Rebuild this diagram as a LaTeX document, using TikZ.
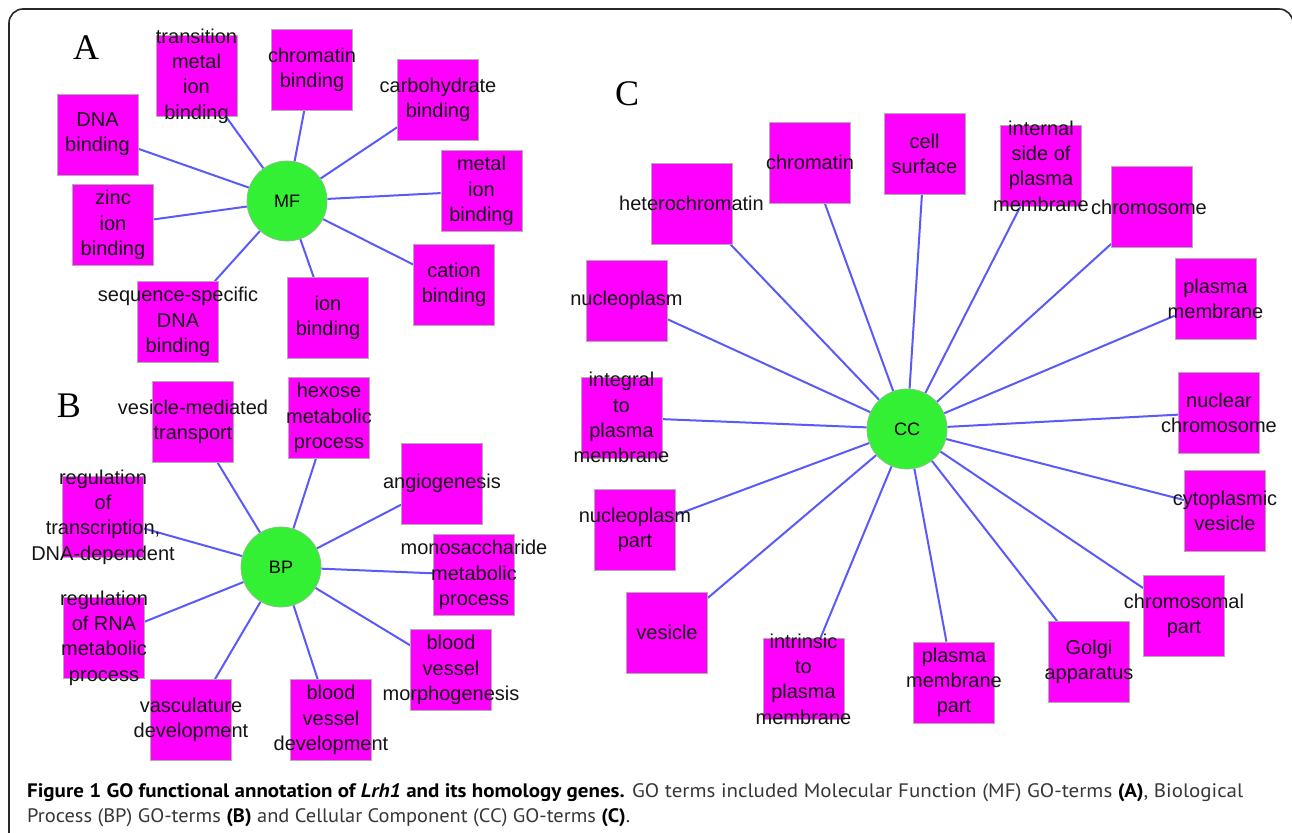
\documentclass[tikz,border=0pt]{standalone}
\usepackage{fontspec}
\usepackage{graphicx}
\usetikzlibrary{backgrounds}
\newfontfamily\arialf{Liberation Sans}
\newfontfamily\timesf{Liberation Serif}
\newfontfamily\capfont{PT Sans}
\definecolor{mag}{RGB}{255,0,255}
\definecolor{boxline}{RGB}{175,175,175}
\definecolor{hubgreen}{RGB}{52,240,52}
\definecolor{hubline}{RGB}{140,190,140}
\definecolor{edgeblue}{RGB}{90,90,250}
\definecolor{framec}{RGB}{40,40,40}
\definecolor{captxt}{RGB}{55,55,55}
\tikzset{
  gobox/.style={rectangle, fill=mag, draw=boxline, line width=0.7pt, minimum width=81pt, minimum height=81pt, inner sep=0pt},
  lbl/.style={align=center, inner sep=0pt, text=black!92, font=\arialf\fontsize{20}{25.3}\selectfont},
  hub/.style={circle, fill=hubgreen, draw=hubline, line width=0.8pt, minimum size=80pt, inner sep=0pt, font=\arialf\fontsize{18}{20}\selectfont},
  edge/.style={draw=edgeblue, line width=2pt},
  panel/.style={inner sep=0pt, font=\timesf\fontsize{36}{36}\selectfont},
  captionline/.style={inner sep=0pt, anchor=base west, text=captxt, font=\capfont\fontsize{19.5}{22}\selectfont}
}
\begin{document}
\begin{tikzpicture}[x=1pt,y=-1pt]
\useasboundingbox (0,0) rectangle (1292,832);
\begin{scope}[on background layer]
\fill[white] (0,0) rectangle (1292,832);
\end{scope}
\begin{scope}
\clip (0,0) rectangle (1292,832);
\draw[framec, line width=1.6pt, rounded corners=14pt] (9,9) rectangle (1293,870);
\end{scope}

% ---------- Panel A ----------
\node[panel] (pA) at (86,48) {A};
\node[hub] (MF) at (287,201) {MF};
\node[gobox] (a1) at (196.5,76) {};
\node[gobox] (a2) at (312,70) {};
\node[gobox] (a3) at (438,100) {};
\node[gobox] (a4) at (97.5,134.5) {};
\node[gobox] (a5) at (481.5,191) {};
\node[gobox] (a6) at (113,225) {};
\node[gobox] (a7) at (454,285) {};
\node[gobox] (a8) at (178,322) {};
\node[gobox] (a9) at (328,318) {};
\node[lbl] (ta1) at (a1) {transition\\metal\\ion\\binding};
\node[lbl] (ta2) at (a2) {chromatin\\binding};
\node[lbl] (ta3) at (a3) {carbohydrate\\binding};
\node[lbl] (ta4) at (a4) {DNA\\binding};
\node[lbl] (ta5) at (a5) {metal\\ion\\binding};
\node[lbl] (ta6) at (a6) {zinc\\ion\\binding};
\node[lbl] (ta7) at (a7) {cation\\binding};
\node[lbl] (ta8) at (a8) {sequence-specific\\DNA\\binding};
\node[lbl] (ta9) at (a9) {ion\\binding};

% ---------- Panel B ----------
\node[panel] (pB) at (69,406) {B};
\node[hub] (BP) at (281,567) {BP};
\node[gobox] (b1) at (193,422) {};
\node[gobox] (b2) at (329,418) {};
\node[gobox] (b3) at (442,483.5) {};
\node[gobox] (b4) at (103,517) {};
\node[gobox] (b5) at (474,575) {};
\node[gobox] (b6) at (104,638) {};
\node[gobox] (b7) at (451,670) {};
\node[gobox] (b8) at (191,720) {};
\node[gobox] (b9) at (331,720) {};
\node[lbl] (tb1) at (b1) {vesicle-mediated\\transport};
\node[lbl] (tb2) at (b2) {hexose\\metabolic\\process};
\node[lbl] (tb3) at (b3) {angiogenesis};
\node[lbl] (tb4) at (b4) {regulation\\of\\transcription,\\DNA-dependent};
\node[lbl] (tb5) at (b5) {monosaccharide\\metabolic\\process};
\node[lbl] (tb6) at (b6) {regulation\\of RNA\\metabolic\\process};
\node[lbl] (tb7) at (b7) {blood\\vessel\\morphogenesis};
\node[lbl] (tb8) at (b8) {vasculature\\development};
\node[lbl] (tb9) at (b9) {blood\\vessel\\development};

% ---------- Panel C ----------
\node[panel] (pC) at (627,94) {C};
\node[hub] (CC) at (907,429) {CC};
\node[gobox] (c1) at (691.5,203.5) {};
\node[gobox] (c2) at (810,162.5) {};
\node[gobox] (c3) at (924.5,154) {};
\node[gobox] (c4) at (1041,166) {};
\node[gobox] (c5) at (1152,207) {};
\node[gobox] (c6) at (626.5,300.5) {};
\node[gobox] (c7) at (1215.5,298.5) {};
\node[gobox] (c8) at (621.5,417.5) {};
\node[gobox] (c9) at (1219,412.5) {};
\node[gobox] (c10) at (635,530) {};
\node[gobox] (c11) at (1225,510.5) {};
\node[gobox] (c12) at (667,632.5) {};
\node[gobox] (c13) at (1184,615.5) {};
\node[gobox] (c14) at (803.5,679) {};
\node[gobox] (c15) at (954,682.5) {};
\node[gobox] (c16) at (1089,662) {};
\node[lbl] (tc1) at (c1) {heterochromatin};
\node[lbl] (tc2) at (c2) {chromatin};
\node[lbl] (tc3) at (c3) {cell\\surface};
\node[lbl] (tc4) at (c4) {internal\\side of\\plasma\\membrane};
\node[lbl] (tc5) at (1149,207) {chromosome};
\node[lbl] (tc6) at (c6) {nucleoplasm};
\node[lbl] (tc7) at (c7) {plasma\\membrane};
\node[lbl] (tc8) at (c8) {integral\\to\\plasma\\membrane};
\node[lbl] (tc9) at (c9) {nuclear\\chromosome};
\node[lbl] (tc10) at (c10) {nucleoplasm\\part};
\node[lbl] (tc11) at (c11) {cytoplasmic\\vesicle};
\node[lbl] (tc12) at (c12) {vesicle};
\node[lbl] (tc13) at (c13) {chromosomal\\part};
\node[lbl] (tc14) at (c14) {intrinsic\\to\\plasma\\membrane};
\node[lbl] (tc15) at (c15) {plasma\\membrane\\part};
\node[lbl] (tc16) at (c16) {Golgi\\apparatus};

% ---------- Edges ----------
\begin{scope}[on background layer]
\foreach \n in {a1,a2,a3,a4,a5,a6,a7,a8,a9} \draw[edge] (MF) -- (\n);
\foreach \n in {b1,b2,b3,b4,b5,b6,b7,b8,b9} \draw[edge] (BP) -- (\n);
\foreach \n in {c1,c2,c3,c4,c5,c6,c7,c8,c9,c10,c11,c12,c13,c14,c15,c16} \draw[edge] (CC) -- (\n);
\end{scope}

% ---------- Caption ----------
\node[captionline] (cap1) at (27,797) {\resizebox{1216pt}{\height}{\textcolor{black}{\bfseries Figure 1 GO functional annotation of \textit{Lrh1} and its homology genes.} GO terms included Molecular Function (MF) GO-terms \textcolor{black}{\bfseries (A)}, Biological}};
\node[captionline] (cap2) at (27,822) {\resizebox{603pt}{\height}{Process (BP) GO-terms \textcolor{black}{\bfseries (B)} and Cellular Component (CC) GO-terms \textcolor{black}{\bfseries (C)}.}};
\end{tikzpicture}
\end{document}
